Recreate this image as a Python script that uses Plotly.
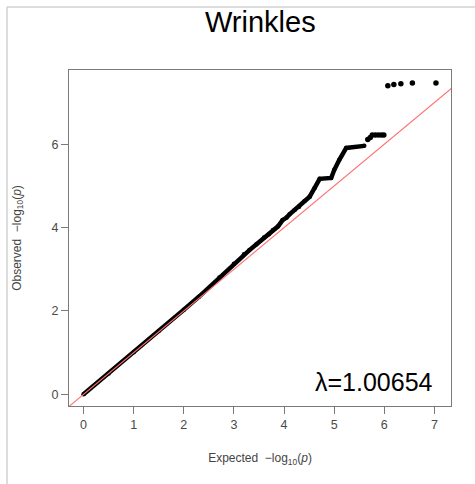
import plotly.graph_objects as go

# Main dense QQ curve (expected, observed -log10 p)
curve_expected = [0.0, 0.5, 1.0, 1.5, 2.0, 2.3, 2.71, 3.0, 3.2, 3.31, 3.45, 3.6, 3.7, 3.78, 3.88,
                  3.97, 4.05, 4.11, 4.21, 4.3, 4.41, 4.51, 4.61, 4.71, 4.94, 5.0, 5.1, 5.24, 5.6]
curve_observed = [0.0, 0.5, 1.01, 1.52, 2.03, 2.34, 2.8, 3.13, 3.36, 3.46, 3.6, 3.76, 3.84, 3.94, 4.03,
                  4.18, 4.24, 4.32, 4.42, 4.5, 4.64, 4.74, 4.95, 5.17, 5.19, 5.38, 5.62, 5.91, 5.96]

# Sparse top points
top_expected = [5.67, 5.72, 5.76, 5.82, 5.88, 5.94, 5.99, 6.07, 6.19, 6.33, 6.56, 7.03]
top_observed = [6.11, 6.16, 6.22, 6.22, 6.22, 6.22, 6.22, 7.40, 7.43, 7.45, 7.47, 7.47]

x_ticks = [0, 1, 2, 3, 4, 5, 6, 7]
y_ticks = [0, 2, 4, 6]
title_text = "Wrinkles"
lambda_text = "λ=1.00654"

FONT = "Liberation Sans, Arial, sans-serif"

fig = go.Figure()
fig.add_trace(go.Scatter(x=curve_expected, y=curve_observed, mode="lines+markers",
                         line=dict(color="black", width=4.5),
                         marker=dict(color="black", size=4.5), showlegend=False))
fig.add_trace(go.Scatter(x=top_expected, y=top_observed, mode="markers",
                         marker=dict(color="black", size=5.5), showlegend=False))
fig.add_trace(go.Scatter(x=[-1, 9], y=[-1, 9], mode="lines",
                         line=dict(color="#ff7070", width=1.2), showlegend=False))

L, R, T, B = 69, 24, 70, 78
W, H = 475, 484
pw, ph = W - L - R, H - T - B

def px(xpix):
    return (xpix - L) / pw

def py(ypix):
    return (H - B - ypix) / ph

axis_common = dict(showgrid=False, zeroline=False, showline=True, mirror=True,
                   linecolor="#7a7a7a", linewidth=1.2, ticks="outside", ticklen=7,
                   tickcolor="#7a7a7a", tickwidth=1.2,
                   tickfont=dict(family=FONT, size=12.5, color="#4a4a4a"))

fig.update_layout(
    width=W, height=H, margin=dict(l=L, r=R, t=T, b=B),
    plot_bgcolor="white", paper_bgcolor="white",
    xaxis=dict(range=[-0.29, 7.33], tickvals=x_ticks, ticktext=[str(v) for v in x_ticks],
               title=dict(text="Expected  \u2212log<sub>10</sub>(<i>p</i>)",
                          font=dict(family=FONT, size=12, color="#444"), standoff=22),
               **axis_common),
    yaxis=dict(range=[-0.28, 7.78], tickvals=y_ticks, ticktext=[str(v) for v in y_ticks],
               title=dict(text="Observed  \u2212log<sub>10</sub>(<i>p</i>)",
                          font=dict(family=FONT, size=12, color="#444"), standoff=27),
               **axis_common),
    showlegend=False,
)

fig.add_annotation(text=title_text, xref="paper", yref="paper", x=px(260), y=py(22),
                   xanchor="center", yanchor="middle", showarrow=False,
                   font=dict(family=FONT, size=29, color="black"))
fig.add_annotation(text=lambda_text, xref="paper", yref="paper", x=px(435), y=py(382),
                   xanchor="right", yanchor="middle", showarrow=False,
                   font=dict(family=FONT, size=25, color="black"))

# outer light frame (left and top edges)
fig.add_shape(type="line", xref="paper", yref="paper", x0=px(7), x1=px(7), y0=py(7), y1=py(484),
              line=dict(color="#d0d0d0", width=1.5))
fig.add_shape(type="line", xref="paper", yref="paper", x0=px(7), x1=px(475), y0=py(7), y1=py(7),
              line=dict(color="#d0d0d0", width=1.5))

fig.write_html("out.html")
